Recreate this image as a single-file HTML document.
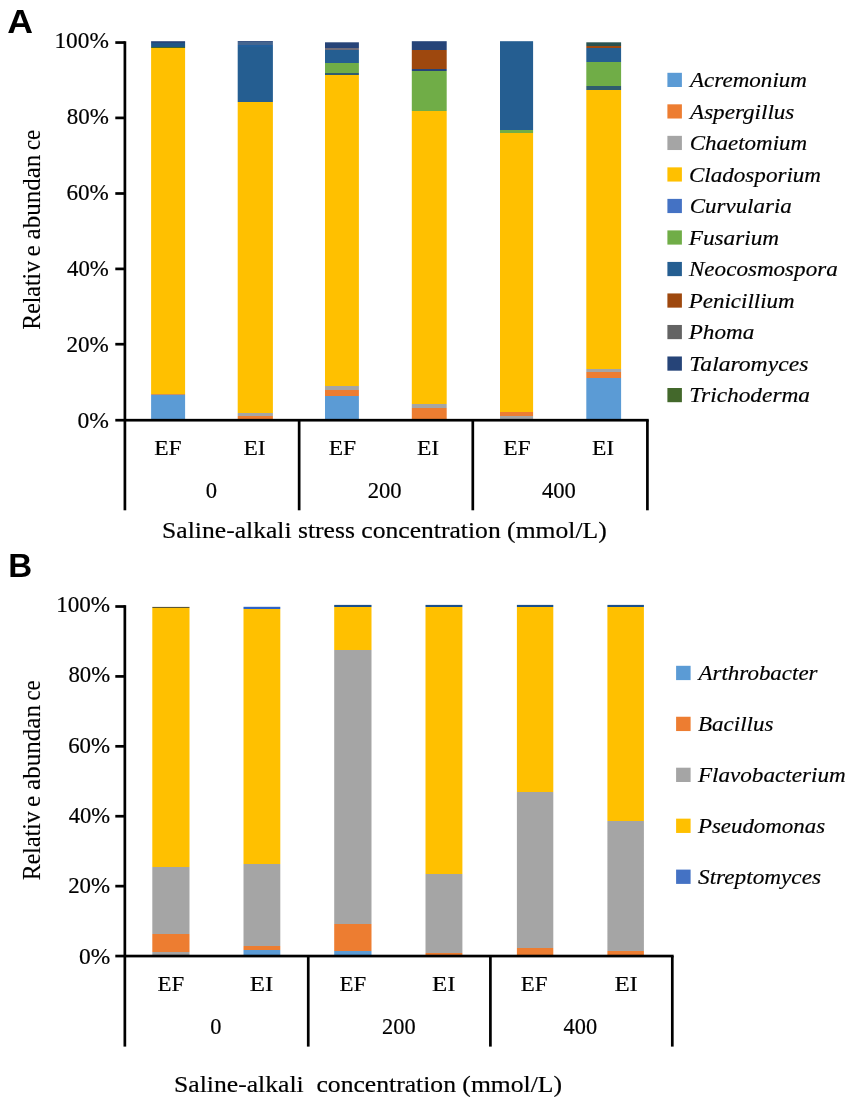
<!DOCTYPE html>
<html><head><meta charset="utf-8"><title>Figure</title>
<style>
html,body{margin:0;padding:0;background:#fff;}
body{width:854px;height:1104px;overflow:hidden;font-family:"Liberation Serif",serif;}
svg{display:block;filter:blur(0.45px);}
text{fill:#000;}
</style></head><body>
<svg width="854" height="1104" viewBox="0 0 854 1104">
<defs>
<linearGradient id="g1" gradientUnits="userSpaceOnUse" x1="0" y1="41.20" x2="0" y2="420.20"><stop offset="0.00000" stop-color="#264478"/><stop offset="0.00369" stop-color="#264478"/><stop offset="0.00369" stop-color="#1f5585"/><stop offset="0.01425" stop-color="#1f5585"/><stop offset="0.01425" stop-color="#43682B"/><stop offset="0.01715" stop-color="#43682B"/><stop offset="0.01715" stop-color="#FFC000"/><stop offset="0.92982" stop-color="#FFC000"/><stop offset="0.92982" stop-color="#c9915e"/><stop offset="0.93404" stop-color="#c9915e"/><stop offset="0.93404" stop-color="#5B9BD5"/><stop offset="1.00000" stop-color="#5B9BD5"/></linearGradient>
<linearGradient id="g2" gradientUnits="userSpaceOnUse" x1="0" y1="41.10" x2="0" y2="420.20"><stop offset="0.00000" stop-color="#264478"/><stop offset="0.00343" stop-color="#264478"/><stop offset="0.00343" stop-color="#456690"/><stop offset="0.01134" stop-color="#456690"/><stop offset="0.01134" stop-color="#23609c"/><stop offset="0.01556" stop-color="#23609c"/><stop offset="0.01556" stop-color="#255E91"/><stop offset="0.16064" stop-color="#255E91"/><stop offset="0.16064" stop-color="#FFC000"/><stop offset="0.98048" stop-color="#FFC000"/><stop offset="0.98048" stop-color="#A5A5A5"/><stop offset="0.98839" stop-color="#A5A5A5"/><stop offset="0.98839" stop-color="#ED7D31"/><stop offset="1.00000" stop-color="#ED7D31"/></linearGradient>
<linearGradient id="g3" gradientUnits="userSpaceOnUse" x1="0" y1="42.30" x2="0" y2="420.20"><stop offset="0.00000" stop-color="#264478"/><stop offset="0.01561" stop-color="#264478"/><stop offset="0.01561" stop-color="#6f6c78"/><stop offset="0.02091" stop-color="#6f6c78"/><stop offset="0.02091" stop-color="#255E91"/><stop offset="0.05372" stop-color="#255E91"/><stop offset="0.05372" stop-color="#70AD47"/><stop offset="0.08150" stop-color="#70AD47"/><stop offset="0.08150" stop-color="#2f5d6e"/><stop offset="0.08600" stop-color="#2f5d6e"/><stop offset="0.08600" stop-color="#FFC000"/><stop offset="0.91082" stop-color="#FFC000"/><stop offset="0.91082" stop-color="#A5A5A5"/><stop offset="0.91982" stop-color="#A5A5A5"/><stop offset="0.91982" stop-color="#ED7D31"/><stop offset="0.93702" stop-color="#ED7D31"/><stop offset="0.93702" stop-color="#5B9BD5"/><stop offset="1.00000" stop-color="#5B9BD5"/></linearGradient>
<linearGradient id="g4" gradientUnits="userSpaceOnUse" x1="0" y1="41.20" x2="0" y2="420.20"><stop offset="0.00000" stop-color="#264478"/><stop offset="0.02296" stop-color="#264478"/><stop offset="0.02296" stop-color="#9E480E"/><stop offset="0.07256" stop-color="#9E480E"/><stop offset="0.07256" stop-color="#264478"/><stop offset="0.07942" stop-color="#264478"/><stop offset="0.07942" stop-color="#70AD47"/><stop offset="0.18364" stop-color="#70AD47"/><stop offset="0.18364" stop-color="#FFC000"/><stop offset="0.95726" stop-color="#FFC000"/><stop offset="0.95726" stop-color="#A5A5A5"/><stop offset="0.96728" stop-color="#A5A5A5"/><stop offset="0.96728" stop-color="#ED7D31"/><stop offset="1.00000" stop-color="#ED7D31"/></linearGradient>
<linearGradient id="g5" gradientUnits="userSpaceOnUse" x1="0" y1="41.20" x2="0" y2="420.20"><stop offset="0.00000" stop-color="#255E91"/><stop offset="0.23509" stop-color="#255E91"/><stop offset="0.23509" stop-color="#70AD47"/><stop offset="0.24301" stop-color="#70AD47"/><stop offset="0.24301" stop-color="#FFC000"/><stop offset="0.97942" stop-color="#FFC000"/><stop offset="0.97942" stop-color="#ED7D31"/><stop offset="0.98945" stop-color="#ED7D31"/><stop offset="0.98945" stop-color="#A5A5A5"/><stop offset="1.00000" stop-color="#A5A5A5"/></linearGradient>
<linearGradient id="g6" gradientUnits="userSpaceOnUse" x1="0" y1="42.30" x2="0" y2="420.20"><stop offset="0.00000" stop-color="#2a5350"/><stop offset="0.00847" stop-color="#2a5350"/><stop offset="0.00847" stop-color="#9E480E"/><stop offset="0.01535" stop-color="#9E480E"/><stop offset="0.01535" stop-color="#255E91"/><stop offset="0.05107" stop-color="#255E91"/><stop offset="0.05107" stop-color="#70AD47"/><stop offset="0.11617" stop-color="#70AD47"/><stop offset="0.11617" stop-color="#2f5d6e"/><stop offset="0.12649" stop-color="#2f5d6e"/><stop offset="0.12649" stop-color="#FFC000"/><stop offset="0.86557" stop-color="#FFC000"/><stop offset="0.86557" stop-color="#A5A5A5"/><stop offset="0.87113" stop-color="#A5A5A5"/><stop offset="0.87113" stop-color="#ED7D31"/><stop offset="0.88859" stop-color="#ED7D31"/><stop offset="0.88859" stop-color="#5B9BD5"/><stop offset="1.00000" stop-color="#5B9BD5"/></linearGradient>
<linearGradient id="g7" gradientUnits="userSpaceOnUse" x1="0" y1="606.90" x2="0" y2="956.05"><stop offset="0.00000" stop-color="#5f5830"/><stop offset="0.00344" stop-color="#5f5830"/><stop offset="0.00344" stop-color="#FFC000"/><stop offset="0.74467" stop-color="#FFC000"/><stop offset="0.74467" stop-color="#A5A5A5"/><stop offset="0.93713" stop-color="#A5A5A5"/><stop offset="0.93713" stop-color="#ED7D31"/><stop offset="0.98926" stop-color="#ED7D31"/><stop offset="0.98926" stop-color="#A5A5A5"/><stop offset="1.00000" stop-color="#A5A5A5"/></linearGradient>
<linearGradient id="g8" gradientUnits="userSpaceOnUse" x1="0" y1="606.80" x2="0" y2="956.05"><stop offset="0.00000" stop-color="#2f63c4"/><stop offset="0.00716" stop-color="#2f63c4"/><stop offset="0.00716" stop-color="#FFC000"/><stop offset="0.73529" stop-color="#FFC000"/><stop offset="0.73529" stop-color="#A5A5A5"/><stop offset="0.97008" stop-color="#A5A5A5"/><stop offset="0.97008" stop-color="#ED7D31"/><stop offset="0.98153" stop-color="#ED7D31"/><stop offset="0.98153" stop-color="#5B9BD5"/><stop offset="1.00000" stop-color="#5B9BD5"/></linearGradient>
<linearGradient id="g9" gradientUnits="userSpaceOnUse" x1="0" y1="604.90" x2="0" y2="956.05"><stop offset="0.00000" stop-color="#1b4f8a"/><stop offset="0.00513" stop-color="#1b4f8a"/><stop offset="0.00513" stop-color="#FFC000"/><stop offset="0.12758" stop-color="#FFC000"/><stop offset="0.12758" stop-color="#A5A5A5"/><stop offset="0.90958" stop-color="#A5A5A5"/><stop offset="0.90958" stop-color="#ED7D31"/><stop offset="0.98448" stop-color="#ED7D31"/><stop offset="0.98448" stop-color="#5B9BD5"/><stop offset="1.00000" stop-color="#5B9BD5"/></linearGradient>
<linearGradient id="g10" gradientUnits="userSpaceOnUse" x1="0" y1="604.90" x2="0" y2="956.05"><stop offset="0.00000" stop-color="#1b4f8a"/><stop offset="0.00484" stop-color="#1b4f8a"/><stop offset="0.00484" stop-color="#FFC000"/><stop offset="0.76748" stop-color="#FFC000"/><stop offset="0.76748" stop-color="#A5A5A5"/><stop offset="0.99245" stop-color="#A5A5A5"/><stop offset="0.99245" stop-color="#ED7D31"/><stop offset="1.00000" stop-color="#ED7D31"/></linearGradient>
<linearGradient id="g11" gradientUnits="userSpaceOnUse" x1="0" y1="604.90" x2="0" y2="956.05"><stop offset="0.00000" stop-color="#1b4f8a"/><stop offset="0.00484" stop-color="#1b4f8a"/><stop offset="0.00484" stop-color="#FFC000"/><stop offset="0.53424" stop-color="#FFC000"/><stop offset="0.53424" stop-color="#A5A5A5"/><stop offset="0.97679" stop-color="#A5A5A5"/><stop offset="0.97679" stop-color="#ED7D31"/><stop offset="1.00000" stop-color="#ED7D31"/></linearGradient>
<linearGradient id="g12" gradientUnits="userSpaceOnUse" x1="0" y1="604.90" x2="0" y2="956.05"><stop offset="0.00000" stop-color="#1b4f8a"/><stop offset="0.00484" stop-color="#1b4f8a"/><stop offset="0.00484" stop-color="#FFC000"/><stop offset="0.61455" stop-color="#FFC000"/><stop offset="0.61455" stop-color="#A5A5A5"/><stop offset="0.98590" stop-color="#A5A5A5"/><stop offset="0.98590" stop-color="#ED7D31"/><stop offset="1.00000" stop-color="#ED7D31"/></linearGradient>
</defs>
<rect x="0" y="0" width="854" height="1104" fill="#ffffff"/>
<rect x="151.10" y="41.20" width="34.00" height="379.00" fill="url(#g1)"/>
<rect x="237.70" y="41.10" width="35.20" height="379.10" fill="url(#g2)"/>
<rect x="325.00" y="42.30" width="33.90" height="377.90" fill="url(#g3)"/>
<rect x="411.80" y="41.20" width="34.90" height="379.00" fill="url(#g4)"/>
<rect x="500.00" y="41.20" width="33.10" height="379.00" fill="url(#g5)"/>
<rect x="586.30" y="42.30" width="34.80" height="377.90" fill="url(#g6)"/>
<rect x="123.55" y="41.25" width="2.70" height="469.05" fill="#000"/>
<rect x="115.30" y="418.85" width="533.45" height="2.70" fill="#000"/>
<rect x="297.80" y="420.20" width="2.70" height="90.10" fill="#000"/>
<rect x="471.45" y="420.20" width="2.70" height="90.10" fill="#000"/>
<rect x="646.05" y="420.20" width="2.70" height="90.10" fill="#000"/>
<rect x="115.30" y="342.85" width="9.60" height="2.70" fill="#000"/>
<rect x="115.30" y="267.55" width="9.60" height="2.70" fill="#000"/>
<rect x="115.30" y="192.15" width="9.60" height="2.70" fill="#000"/>
<rect x="115.30" y="116.55" width="9.60" height="2.70" fill="#000"/>
<rect x="115.30" y="41.20" width="9.60" height="2.70" fill="#000"/>
<rect x="667.40" y="72.80" width="14.50" height="14.20" fill="#5B9BD5"/>
<rect x="667.40" y="104.32" width="14.50" height="14.20" fill="#ED7D31"/>
<rect x="667.40" y="135.84" width="14.50" height="14.20" fill="#A5A5A5"/>
<rect x="667.40" y="167.36" width="14.50" height="14.20" fill="#FFC000"/>
<rect x="667.40" y="198.88" width="14.50" height="14.20" fill="#4472C4"/>
<rect x="667.40" y="230.40" width="14.50" height="14.20" fill="#70AD47"/>
<rect x="667.40" y="261.92" width="14.50" height="14.20" fill="#255E91"/>
<rect x="667.40" y="293.44" width="14.50" height="14.20" fill="#9E480E"/>
<rect x="667.40" y="324.96" width="14.50" height="14.20" fill="#636363"/>
<rect x="667.40" y="356.48" width="14.50" height="14.20" fill="#264478"/>
<rect x="667.40" y="388.00" width="14.50" height="14.20" fill="#43682B"/>
<rect x="152.30" y="606.90" width="37.20" height="349.15" fill="url(#g7)"/>
<rect x="243.50" y="606.80" width="36.80" height="349.25" fill="url(#g8)"/>
<rect x="334.20" y="604.90" width="37.30" height="351.15" fill="url(#g9)"/>
<rect x="425.50" y="604.90" width="36.90" height="351.15" fill="url(#g10)"/>
<rect x="516.90" y="604.90" width="36.40" height="351.15" fill="url(#g11)"/>
<rect x="607.40" y="604.90" width="36.50" height="351.15" fill="url(#g12)"/>
<rect x="123.50" y="605.15" width="2.70" height="441.45" fill="#000"/>
<rect x="115.30" y="954.70" width="558.35" height="2.70" fill="#000"/>
<rect x="306.90" y="956.05" width="2.70" height="90.55" fill="#000"/>
<rect x="489.05" y="956.05" width="2.70" height="90.55" fill="#000"/>
<rect x="670.95" y="956.05" width="2.70" height="90.55" fill="#000"/>
<rect x="115.30" y="884.79" width="9.55" height="2.70" fill="#000"/>
<rect x="115.30" y="814.88" width="9.55" height="2.70" fill="#000"/>
<rect x="115.30" y="744.97" width="9.55" height="2.70" fill="#000"/>
<rect x="115.30" y="675.06" width="9.55" height="2.70" fill="#000"/>
<rect x="115.30" y="605.15" width="9.55" height="2.70" fill="#000"/>
<rect x="676.10" y="665.80" width="14.50" height="14.30" fill="#5B9BD5"/>
<rect x="676.10" y="716.75" width="14.50" height="14.30" fill="#ED7D31"/>
<rect x="676.10" y="767.70" width="14.50" height="14.30" fill="#A5A5A5"/>
<rect x="676.10" y="818.65" width="14.50" height="14.30" fill="#FFC000"/>
<rect x="676.10" y="869.60" width="14.50" height="14.30" fill="#4472C4"/>
<text transform="translate(77.41,427.50) scale(1.0491,1)" style="font-family:'Liberation Serif',serif;font-size:22.5px;stroke:#000;stroke-width:0.18px;">0%</text>
<text transform="translate(66.47,352.00) scale(1.0278,1)" style="font-family:'Liberation Serif',serif;font-size:22.5px;stroke:#000;stroke-width:0.18px;">20%</text>
<text transform="translate(66.99,275.90) scale(1.0150,1)" style="font-family:'Liberation Serif',serif;font-size:22.5px;stroke:#000;stroke-width:0.18px;">40%</text>
<text transform="translate(66.47,199.90) scale(1.0278,1)" style="font-family:'Liberation Serif',serif;font-size:22.5px;stroke:#000;stroke-width:0.18px;">60%</text>
<text transform="translate(66.73,124.10) scale(1.0214,1)" style="font-family:'Liberation Serif',serif;font-size:22.5px;stroke:#000;stroke-width:0.18px;">80%</text>
<text transform="translate(54.43,48.40) scale(1.0372,1)" style="font-family:'Liberation Serif',serif;font-size:22.5px;stroke:#000;stroke-width:0.18px;">100%</text>
<text transform="translate(40.30,329.79) rotate(-90) scale(0.9185,1)" style="font-family:'Liberation Serif',serif;font-size:26px;stroke:#000;stroke-width:0.1px;">Relativ</text>
<text transform="translate(40.30,256.47) rotate(-90) scale(0.9744,1)" style="font-family:'Liberation Serif',serif;font-size:26px;stroke:#000;stroke-width:0.1px;">e</text>
<text transform="translate(40.30,239.46) rotate(-90) scale(0.9637,1)" style="font-family:'Liberation Serif',serif;font-size:26px;stroke:#000;stroke-width:0.1px;">abundan</text>
<text transform="translate(40.30,150.08) rotate(-90) scale(0.8800,1)" style="font-family:'Liberation Serif',serif;font-size:26px;stroke:#000;stroke-width:0.1px;">ce</text>
<text transform="translate(154.15,454.90) scale(1.0947,1)" style="font-family:'Liberation Serif',serif;font-size:21.5px;stroke:#000;stroke-width:0.18px;">EF</text>
<text transform="translate(243.50,454.90) scale(1.0947,1)" style="font-family:'Liberation Serif',serif;font-size:21.5px;stroke:#000;stroke-width:0.18px;">EI</text>
<text transform="translate(328.75,454.90) scale(1.0947,1)" style="font-family:'Liberation Serif',serif;font-size:21.5px;stroke:#000;stroke-width:0.18px;">EF</text>
<text transform="translate(416.90,454.90) scale(1.0947,1)" style="font-family:'Liberation Serif',serif;font-size:21.5px;stroke:#000;stroke-width:0.18px;">EI</text>
<text transform="translate(503.15,454.90) scale(1.0947,1)" style="font-family:'Liberation Serif',serif;font-size:21.5px;stroke:#000;stroke-width:0.18px;">EF</text>
<text transform="translate(591.95,454.90) scale(1.0947,1)" style="font-family:'Liberation Serif',serif;font-size:21.5px;stroke:#000;stroke-width:0.18px;">EI</text>
<text transform="translate(205.64,498.00) scale(1.0063,1)" style="font-family:'Liberation Serif',serif;font-size:22.5px;stroke:#000;stroke-width:0.18px;">0</text>
<text transform="translate(367.69,498.00) scale(1.0063,1)" style="font-family:'Liberation Serif',serif;font-size:22.5px;stroke:#000;stroke-width:0.18px;">200</text>
<text transform="translate(541.95,498.00) scale(1.0063,1)" style="font-family:'Liberation Serif',serif;font-size:22.5px;stroke:#000;stroke-width:0.18px;">400</text>
<text transform="translate(162.09,537.50) scale(1.1387,1)" style="font-family:'Liberation Serif',serif;font-size:22.5px;stroke:#000;stroke-width:0.18px;">Saline-alkali stress concentration (mmol/L)</text>
<text transform="translate(7.14,32.80) scale(1.0607,1)" style="font-family:'Liberation Sans',sans-serif;font-size:33.6px;font-weight:bold;">A</text>
<text transform="translate(8.18,577.20) scale(0.9854,1)" style="font-family:'Liberation Sans',sans-serif;font-size:33.6px;font-weight:bold;">B</text>
<text transform="translate(690.04,87.10) scale(1.0731,1)" style="font-family:'Liberation Serif',serif;font-size:21.5px;font-style:italic;stroke:#000;stroke-width:0.18px;">Acremonium</text>
<text transform="translate(690.04,118.62) scale(1.0742,1)" style="font-family:'Liberation Serif',serif;font-size:21.5px;font-style:italic;stroke:#000;stroke-width:0.18px;">Aspergillus</text>
<text transform="translate(689.66,150.14) scale(1.0691,1)" style="font-family:'Liberation Serif',serif;font-size:21.5px;font-style:italic;stroke:#000;stroke-width:0.18px;">Chaetomium</text>
<text transform="translate(688.96,181.66) scale(1.0733,1)" style="font-family:'Liberation Serif',serif;font-size:21.5px;font-style:italic;stroke:#000;stroke-width:0.18px;">Cladosporium</text>
<text transform="translate(689.66,213.18) scale(1.0695,1)" style="font-family:'Liberation Serif',serif;font-size:21.5px;font-style:italic;stroke:#000;stroke-width:0.18px;">Curvularia</text>
<text transform="translate(688.70,244.70) scale(1.0828,1)" style="font-family:'Liberation Serif',serif;font-size:21.5px;font-style:italic;stroke:#000;stroke-width:0.18px;">Fusarium</text>
<text transform="translate(688.97,276.22) scale(1.0739,1)" style="font-family:'Liberation Serif',serif;font-size:21.5px;font-style:italic;stroke:#000;stroke-width:0.18px;">Neocosmospora</text>
<text transform="translate(688.70,307.74) scale(1.0687,1)" style="font-family:'Liberation Serif',serif;font-size:21.5px;font-style:italic;stroke:#000;stroke-width:0.18px;">Penicillium</text>
<text transform="translate(688.70,339.26) scale(1.0767,1)" style="font-family:'Liberation Serif',serif;font-size:21.5px;font-style:italic;stroke:#000;stroke-width:0.18px;">Phoma</text>
<text transform="translate(689.35,370.78) scale(1.0993,1)" style="font-family:'Liberation Serif',serif;font-size:21.5px;font-style:italic;stroke:#000;stroke-width:0.18px;">Talaromyces</text>
<text transform="translate(689.37,402.30) scale(1.0869,1)" style="font-family:'Liberation Serif',serif;font-size:21.5px;font-style:italic;stroke:#000;stroke-width:0.18px;">Trichoderma</text>
<text transform="translate(78.92,963.60) scale(1.0421,1)" style="font-family:'Liberation Serif',serif;font-size:22.5px;stroke:#000;stroke-width:0.18px;">0%</text>
<text transform="translate(68.18,893.32) scale(1.0177,1)" style="font-family:'Liberation Serif',serif;font-size:22.5px;stroke:#000;stroke-width:0.18px;">20%</text>
<text transform="translate(68.70,823.04) scale(1.0050,1)" style="font-family:'Liberation Serif',serif;font-size:22.5px;stroke:#000;stroke-width:0.18px;">40%</text>
<text transform="translate(68.18,752.76) scale(1.0177,1)" style="font-family:'Liberation Serif',serif;font-size:22.5px;stroke:#000;stroke-width:0.18px;">60%</text>
<text transform="translate(68.44,682.48) scale(1.0113,1)" style="font-family:'Liberation Serif',serif;font-size:22.5px;stroke:#000;stroke-width:0.18px;">80%</text>
<text transform="translate(56.14,612.20) scale(1.0291,1)" style="font-family:'Liberation Serif',serif;font-size:22.5px;stroke:#000;stroke-width:0.18px;">100%</text>
<text transform="translate(40.10,880.24) rotate(-90) scale(0.9185,1)" style="font-family:'Liberation Serif',serif;font-size:26px;stroke:#000;stroke-width:0.1px;">Relativ</text>
<text transform="translate(40.10,806.92) rotate(-90) scale(0.9744,1)" style="font-family:'Liberation Serif',serif;font-size:26px;stroke:#000;stroke-width:0.1px;">e</text>
<text transform="translate(40.10,789.91) rotate(-90) scale(0.9637,1)" style="font-family:'Liberation Serif',serif;font-size:26px;stroke:#000;stroke-width:0.1px;">abundan</text>
<text transform="translate(40.10,700.53) rotate(-90) scale(0.8800,1)" style="font-family:'Liberation Serif',serif;font-size:26px;stroke:#000;stroke-width:0.1px;">ce</text>
<text transform="translate(157.42,991.20) scale(1.0653,1)" style="font-family:'Liberation Serif',serif;font-size:21.5px;stroke:#000;stroke-width:0.18px;">EF</text>
<text transform="translate(249.87,991.20) scale(1.1579,1)" style="font-family:'Liberation Serif',serif;font-size:21.5px;stroke:#000;stroke-width:0.18px;">EI</text>
<text transform="translate(339.62,991.20) scale(1.0653,1)" style="font-family:'Liberation Serif',serif;font-size:21.5px;stroke:#000;stroke-width:0.18px;">EF</text>
<text transform="translate(432.02,991.20) scale(1.1579,1)" style="font-family:'Liberation Serif',serif;font-size:21.5px;stroke:#000;stroke-width:0.18px;">EI</text>
<text transform="translate(520.72,991.20) scale(1.0653,1)" style="font-family:'Liberation Serif',serif;font-size:21.5px;stroke:#000;stroke-width:0.18px;">EF</text>
<text transform="translate(614.42,991.20) scale(1.1579,1)" style="font-family:'Liberation Serif',serif;font-size:21.5px;stroke:#000;stroke-width:0.18px;">EI</text>
<text transform="translate(210.26,1034.00) scale(0.9938,1)" style="font-family:'Liberation Serif',serif;font-size:22.5px;stroke:#000;stroke-width:0.18px;">0</text>
<text transform="translate(382.11,1034.00) scale(0.9938,1)" style="font-family:'Liberation Serif',serif;font-size:22.5px;stroke:#000;stroke-width:0.18px;">200</text>
<text transform="translate(563.55,1034.00) scale(0.9938,1)" style="font-family:'Liberation Serif',serif;font-size:22.5px;stroke:#000;stroke-width:0.18px;">400</text>
<text transform="translate(174.09,1092.40) scale(1.1402,1)" style="font-family:'Liberation Serif',serif;font-size:22.5px;stroke:#000;stroke-width:0.18px;">Saline-alkali  concentration (mmol/L)</text>
<text transform="translate(698.53,680.10) scale(1.0678,1)" style="font-family:'Liberation Serif',serif;font-size:21.5px;font-style:italic;stroke:#000;stroke-width:0.18px;">Arthrobacter</text>
<text transform="translate(698.03,731.05) scale(1.0691,1)" style="font-family:'Liberation Serif',serif;font-size:21.5px;font-style:italic;stroke:#000;stroke-width:0.18px;">Bacillus</text>
<text transform="translate(697.90,782.00) scale(1.0762,1)" style="font-family:'Liberation Serif',serif;font-size:21.5px;font-style:italic;stroke:#000;stroke-width:0.18px;">Flavobacterium</text>
<text transform="translate(697.90,832.95) scale(1.0653,1)" style="font-family:'Liberation Serif',serif;font-size:21.5px;font-style:italic;stroke:#000;stroke-width:0.18px;">Pseudomonas</text>
<text transform="translate(698.03,883.90) scale(1.0814,1)" style="font-family:'Liberation Serif',serif;font-size:21.5px;font-style:italic;stroke:#000;stroke-width:0.18px;">Streptomyces</text>
</svg>
</body></html>
